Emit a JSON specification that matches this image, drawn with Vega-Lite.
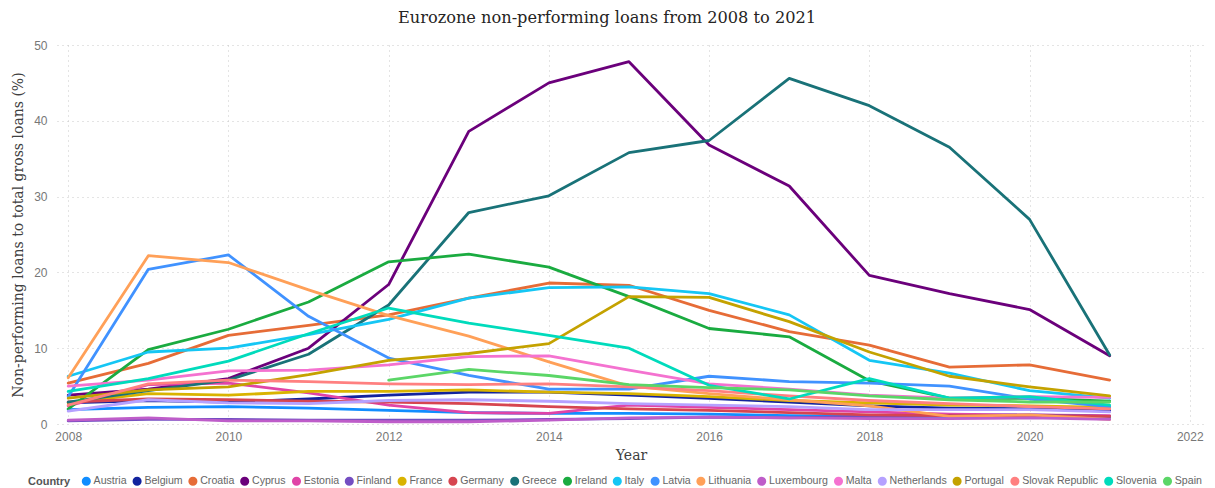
{
  "$schema": "https://vega.github.io/schema/vega-lite/v6.json",
  "width": 1148,
  "height": 379,
  "autosize": {"type": "none"},
  "padding": {"left": 57, "top": 45, "right": 10, "bottom": 64},
  "background": "white",
  "title": {
    "text": "Eurozone non-performing loans from 2008 to 2021",
    "font": "DejaVu Serif",
    "fontSize": 16.2,
    "fontWeight": "normal",
    "color": "#252423",
    "offset": 13,
    "dx": -24
  },
  "config": {
    "view": {"stroke": null},
    "axis": {
      "labelFont": "Liberation Sans",
      "labelFontSize": 12,
      "labelColor": "#777777",
      "titleFont": "DejaVu Serif",
      "titleFontSize": 14,
      "titleFontWeight": "normal",
      "titleColor": "#404040",
      "domain": false,
      "ticks": false,
      "grid": true,
      "gridColor": "#c8c8c8",
      "gridDash": [1, 4],
      "gridWidth": 1
    }
  },
  "datasets": {
    "npl": [
      {"Country": "Austria", "Year": 2008, "NPL": 1.9}, {"Country": "Austria", "Year": 2009, "NPL": 2.2}, {"Country": "Austria", "Year": 2010, "NPL": 2.3}, {"Country": "Austria", "Year": 2011, "NPL": 2.1}, {"Country": "Austria", "Year": 2012, "NPL": 1.8}, {"Country": "Austria", "Year": 2013, "NPL": 1.5}, {"Country": "Austria", "Year": 2014, "NPL": 1.4}, {"Country": "Austria", "Year": 2015, "NPL": 1.4}, {"Country": "Austria", "Year": 2016, "NPL": 1.3}, {"Country": "Austria", "Year": 2017, "NPL": 1.1}, {"Country": "Austria", "Year": 2018, "NPL": 1.0}, {"Country": "Austria", "Year": 2019, "NPL": 0.9}, {"Country": "Austria", "Year": 2020, "NPL": 0.9}, {"Country": "Austria", "Year": 2021, "NPL": 0.8},
      {"Country": "Belgium", "Year": 2008, "NPL": 2.8}, {"Country": "Belgium", "Year": 2009, "NPL": 3.1}, {"Country": "Belgium", "Year": 2010, "NPL": 2.9}, {"Country": "Belgium", "Year": 2011, "NPL": 3.3}, {"Country": "Belgium", "Year": 2012, "NPL": 3.8}, {"Country": "Belgium", "Year": 2013, "NPL": 4.2}, {"Country": "Belgium", "Year": 2014, "NPL": 4.2}, {"Country": "Belgium", "Year": 2015, "NPL": 3.8}, {"Country": "Belgium", "Year": 2016, "NPL": 3.4}, {"Country": "Belgium", "Year": 2017, "NPL": 2.9}, {"Country": "Belgium", "Year": 2018, "NPL": 2.4}, {"Country": "Belgium", "Year": 2019, "NPL": 2.1}, {"Country": "Belgium", "Year": 2020, "NPL": 2.0}, {"Country": "Belgium", "Year": 2021, "NPL": 1.8},
      {"Country": "Croatia", "Year": 2008, "NPL": 5.4}, {"Country": "Croatia", "Year": 2009, "NPL": 8.0}, {"Country": "Croatia", "Year": 2010, "NPL": 11.7}, {"Country": "Croatia", "Year": 2011, "NPL": 13.0}, {"Country": "Croatia", "Year": 2012, "NPL": 14.4}, {"Country": "Croatia", "Year": 2013, "NPL": 16.6}, {"Country": "Croatia", "Year": 2014, "NPL": 18.6}, {"Country": "Croatia", "Year": 2015, "NPL": 18.3}, {"Country": "Croatia", "Year": 2016, "NPL": 15.0}, {"Country": "Croatia", "Year": 2017, "NPL": 12.2}, {"Country": "Croatia", "Year": 2018, "NPL": 10.4}, {"Country": "Croatia", "Year": 2019, "NPL": 7.5}, {"Country": "Croatia", "Year": 2020, "NPL": 7.8}, {"Country": "Croatia", "Year": 2021, "NPL": 5.8},
      {"Country": "Cyprus", "Year": 2008, "NPL": 3.8}, {"Country": "Cyprus", "Year": 2009, "NPL": 4.6}, {"Country": "Cyprus", "Year": 2010, "NPL": 6.0}, {"Country": "Cyprus", "Year": 2011, "NPL": 10.0}, {"Country": "Cyprus", "Year": 2012, "NPL": 18.4}, {"Country": "Cyprus", "Year": 2013, "NPL": 38.6}, {"Country": "Cyprus", "Year": 2014, "NPL": 45.0}, {"Country": "Cyprus", "Year": 2015, "NPL": 47.8}, {"Country": "Cyprus", "Year": 2016, "NPL": 36.8}, {"Country": "Cyprus", "Year": 2017, "NPL": 31.4}, {"Country": "Cyprus", "Year": 2018, "NPL": 19.6}, {"Country": "Cyprus", "Year": 2019, "NPL": 17.2}, {"Country": "Cyprus", "Year": 2020, "NPL": 15.1}, {"Country": "Cyprus", "Year": 2021, "NPL": 9.0},
      {"Country": "Estonia", "Year": 2008, "NPL": 2.4}, {"Country": "Estonia", "Year": 2009, "NPL": 5.2}, {"Country": "Estonia", "Year": 2010, "NPL": 5.4}, {"Country": "Estonia", "Year": 2011, "NPL": 4.1}, {"Country": "Estonia", "Year": 2012, "NPL": 2.5}, {"Country": "Estonia", "Year": 2013, "NPL": 1.5}, {"Country": "Estonia", "Year": 2014, "NPL": 1.4}, {"Country": "Estonia", "Year": 2015, "NPL": 2.5}, {"Country": "Estonia", "Year": 2016, "NPL": 2.2}, {"Country": "Estonia", "Year": 2017, "NPL": 1.9}, {"Country": "Estonia", "Year": 2018, "NPL": 1.6}, {"Country": "Estonia", "Year": 2019, "NPL": 1.3}, {"Country": "Estonia", "Year": 2020, "NPL": 1.2}, {"Country": "Estonia", "Year": 2021, "NPL": 1.1},
      {"Country": "Finland", "Year": 2008, "NPL": 0.4}, {"Country": "Finland", "Year": 2009, "NPL": 0.6}, {"Country": "Finland", "Year": 2010, "NPL": 0.6}, {"Country": "Finland", "Year": 2011, "NPL": 0.5}, {"Country": "Finland", "Year": 2012, "NPL": 0.5}, {"Country": "Finland", "Year": 2013, "NPL": 0.5}, {"Country": "Finland", "Year": 2014, "NPL": 0.6}, {"Country": "Finland", "Year": 2015, "NPL": 0.7}, {"Country": "Finland", "Year": 2016, "NPL": 0.9}, {"Country": "Finland", "Year": 2017, "NPL": 0.8}, {"Country": "Finland", "Year": 2018, "NPL": 1.0}, {"Country": "Finland", "Year": 2019, "NPL": 1.1}, {"Country": "Finland", "Year": 2020, "NPL": 1.2}, {"Country": "Finland", "Year": 2021, "NPL": 1.0},
      {"Country": "France", "Year": 2008, "NPL": 2.8}, {"Country": "France", "Year": 2009, "NPL": 4.0}, {"Country": "France", "Year": 2010, "NPL": 3.8}, {"Country": "France", "Year": 2011, "NPL": 4.3}, {"Country": "France", "Year": 2012, "NPL": 4.3}, {"Country": "France", "Year": 2013, "NPL": 4.5}, {"Country": "France", "Year": 2014, "NPL": 4.2}, {"Country": "France", "Year": 2015, "NPL": 4.0}, {"Country": "France", "Year": 2016, "NPL": 3.6}, {"Country": "France", "Year": 2017, "NPL": 3.1}, {"Country": "France", "Year": 2018, "NPL": 2.8}, {"Country": "France", "Year": 2019, "NPL": 2.5}, {"Country": "France", "Year": 2020, "NPL": 2.4}, {"Country": "France", "Year": 2021, "NPL": 2.2},
      {"Country": "Germany", "Year": 2008, "NPL": 2.9}, {"Country": "Germany", "Year": 2009, "NPL": 3.3}, {"Country": "Germany", "Year": 2010, "NPL": 3.2}, {"Country": "Germany", "Year": 2011, "NPL": 3.0}, {"Country": "Germany", "Year": 2012, "NPL": 2.9}, {"Country": "Germany", "Year": 2013, "NPL": 2.7}, {"Country": "Germany", "Year": 2014, "NPL": 2.3}, {"Country": "Germany", "Year": 2015, "NPL": 2.0}, {"Country": "Germany", "Year": 2016, "NPL": 1.8}, {"Country": "Germany", "Year": 2017, "NPL": 1.5}, {"Country": "Germany", "Year": 2018, "NPL": 1.2}, {"Country": "Germany", "Year": 2019, "NPL": 1.1}, {"Country": "Germany", "Year": 2020, "NPL": 1.1}, {"Country": "Germany", "Year": 2021, "NPL": 1.0},
      {"Country": "Greece", "Year": 2008, "NPL": 2.9}, {"Country": "Greece", "Year": 2009, "NPL": 4.4}, {"Country": "Greece", "Year": 2010, "NPL": 5.8}, {"Country": "Greece", "Year": 2011, "NPL": 9.2}, {"Country": "Greece", "Year": 2012, "NPL": 15.7}, {"Country": "Greece", "Year": 2013, "NPL": 27.9}, {"Country": "Greece", "Year": 2014, "NPL": 30.1}, {"Country": "Greece", "Year": 2015, "NPL": 35.8}, {"Country": "Greece", "Year": 2016, "NPL": 37.4}, {"Country": "Greece", "Year": 2017, "NPL": 45.6}, {"Country": "Greece", "Year": 2018, "NPL": 42.0}, {"Country": "Greece", "Year": 2019, "NPL": 36.5}, {"Country": "Greece", "Year": 2020, "NPL": 27.0}, {"Country": "Greece", "Year": 2021, "NPL": 9.1},
      {"Country": "Ireland", "Year": 2008, "NPL": 2.0}, {"Country": "Ireland", "Year": 2009, "NPL": 9.8}, {"Country": "Ireland", "Year": 2010, "NPL": 12.5}, {"Country": "Ireland", "Year": 2011, "NPL": 16.1}, {"Country": "Ireland", "Year": 2012, "NPL": 21.4}, {"Country": "Ireland", "Year": 2013, "NPL": 22.4}, {"Country": "Ireland", "Year": 2014, "NPL": 20.7}, {"Country": "Ireland", "Year": 2015, "NPL": 16.8}, {"Country": "Ireland", "Year": 2016, "NPL": 12.6}, {"Country": "Ireland", "Year": 2017, "NPL": 11.5}, {"Country": "Ireland", "Year": 2018, "NPL": 5.7}, {"Country": "Ireland", "Year": 2019, "NPL": 3.4}, {"Country": "Ireland", "Year": 2020, "NPL": 3.4}, {"Country": "Ireland", "Year": 2021, "NPL": 3.0},
      {"Country": "Italy", "Year": 2008, "NPL": 6.3}, {"Country": "Italy", "Year": 2009, "NPL": 9.5}, {"Country": "Italy", "Year": 2010, "NPL": 10.0}, {"Country": "Italy", "Year": 2011, "NPL": 11.8}, {"Country": "Italy", "Year": 2012, "NPL": 13.8}, {"Country": "Italy", "Year": 2013, "NPL": 16.6}, {"Country": "Italy", "Year": 2014, "NPL": 18.0}, {"Country": "Italy", "Year": 2015, "NPL": 18.1}, {"Country": "Italy", "Year": 2016, "NPL": 17.2}, {"Country": "Italy", "Year": 2017, "NPL": 14.4}, {"Country": "Italy", "Year": 2018, "NPL": 8.4}, {"Country": "Italy", "Year": 2019, "NPL": 6.7}, {"Country": "Italy", "Year": 2020, "NPL": 4.4}, {"Country": "Italy", "Year": 2021, "NPL": 3.4},
      {"Country": "Latvia", "Year": 2008, "NPL": 3.6}, {"Country": "Latvia", "Year": 2009, "NPL": 20.4}, {"Country": "Latvia", "Year": 2010, "NPL": 22.3}, {"Country": "Latvia", "Year": 2011, "NPL": 14.2}, {"Country": "Latvia", "Year": 2012, "NPL": 8.7}, {"Country": "Latvia", "Year": 2013, "NPL": 6.4}, {"Country": "Latvia", "Year": 2014, "NPL": 4.6}, {"Country": "Latvia", "Year": 2015, "NPL": 4.6}, {"Country": "Latvia", "Year": 2016, "NPL": 6.3}, {"Country": "Latvia", "Year": 2017, "NPL": 5.6}, {"Country": "Latvia", "Year": 2018, "NPL": 5.4}, {"Country": "Latvia", "Year": 2019, "NPL": 5.0}, {"Country": "Latvia", "Year": 2020, "NPL": 3.3}, {"Country": "Latvia", "Year": 2021, "NPL": 2.3},
      {"Country": "Lithuania", "Year": 2008, "NPL": 6.1}, {"Country": "Lithuania", "Year": 2009, "NPL": 22.2}, {"Country": "Lithuania", "Year": 2010, "NPL": 21.3}, {"Country": "Lithuania", "Year": 2011, "NPL": 17.7}, {"Country": "Lithuania", "Year": 2012, "NPL": 14.3}, {"Country": "Lithuania", "Year": 2013, "NPL": 11.6}, {"Country": "Lithuania", "Year": 2014, "NPL": 8.2}, {"Country": "Lithuania", "Year": 2015, "NPL": 5.0}, {"Country": "Lithuania", "Year": 2016, "NPL": 4.0}, {"Country": "Lithuania", "Year": 2017, "NPL": 3.2}, {"Country": "Lithuania", "Year": 2018, "NPL": 2.4}, {"Country": "Lithuania", "Year": 2019, "NPL": 1.0}, {"Country": "Lithuania", "Year": 2020, "NPL": 1.2}, {"Country": "Lithuania", "Year": 2021, "NPL": 0.6},
      {"Country": "Luxembourg", "Year": 2008, "NPL": 0.5}, {"Country": "Luxembourg", "Year": 2009, "NPL": 0.8}, {"Country": "Luxembourg", "Year": 2010, "NPL": 0.4}, {"Country": "Luxembourg", "Year": 2011, "NPL": 0.4}, {"Country": "Luxembourg", "Year": 2012, "NPL": 0.3}, {"Country": "Luxembourg", "Year": 2013, "NPL": 0.3}, {"Country": "Luxembourg", "Year": 2014, "NPL": 0.5}, {"Country": "Luxembourg", "Year": 2015, "NPL": 0.8}, {"Country": "Luxembourg", "Year": 2016, "NPL": 0.9}, {"Country": "Luxembourg", "Year": 2017, "NPL": 0.8}, {"Country": "Luxembourg", "Year": 2018, "NPL": 0.7}, {"Country": "Luxembourg", "Year": 2019, "NPL": 0.7}, {"Country": "Luxembourg", "Year": 2020, "NPL": 0.8}, {"Country": "Luxembourg", "Year": 2021, "NPL": 0.6},
      {"Country": "Malta", "Year": 2008, "NPL": 5.0}, {"Country": "Malta", "Year": 2009, "NPL": 5.8}, {"Country": "Malta", "Year": 2010, "NPL": 7.0}, {"Country": "Malta", "Year": 2011, "NPL": 7.1}, {"Country": "Malta", "Year": 2012, "NPL": 7.8}, {"Country": "Malta", "Year": 2013, "NPL": 8.9}, {"Country": "Malta", "Year": 2014, "NPL": 9.0}, {"Country": "Malta", "Year": 2015, "NPL": 7.1}, {"Country": "Malta", "Year": 2016, "NPL": 5.3}, {"Country": "Malta", "Year": 2017, "NPL": 4.6}, {"Country": "Malta", "Year": 2018, "NPL": 3.8}, {"Country": "Malta", "Year": 2019, "NPL": 3.4}, {"Country": "Malta", "Year": 2020, "NPL": 3.6}, {"Country": "Malta", "Year": 2021, "NPL": 3.5},
      {"Country": "Netherlands", "Year": 2008, "NPL": 1.7}, {"Country": "Netherlands", "Year": 2009, "NPL": 3.2}, {"Country": "Netherlands", "Year": 2010, "NPL": 2.8}, {"Country": "Netherlands", "Year": 2011, "NPL": 2.7}, {"Country": "Netherlands", "Year": 2012, "NPL": 3.1}, {"Country": "Netherlands", "Year": 2013, "NPL": 3.2}, {"Country": "Netherlands", "Year": 2014, "NPL": 3.0}, {"Country": "Netherlands", "Year": 2015, "NPL": 2.7}, {"Country": "Netherlands", "Year": 2016, "NPL": 2.5}, {"Country": "Netherlands", "Year": 2017, "NPL": 2.3}, {"Country": "Netherlands", "Year": 2018, "NPL": 1.9}, {"Country": "Netherlands", "Year": 2019, "NPL": 1.9}, {"Country": "Netherlands", "Year": 2020, "NPL": 1.9}, {"Country": "Netherlands", "Year": 2021, "NPL": 1.6},
      {"Country": "Portugal", "Year": 2008, "NPL": 3.4}, {"Country": "Portugal", "Year": 2009, "NPL": 4.5}, {"Country": "Portugal", "Year": 2010, "NPL": 4.9}, {"Country": "Portugal", "Year": 2011, "NPL": 6.5}, {"Country": "Portugal", "Year": 2012, "NPL": 8.4}, {"Country": "Portugal", "Year": 2013, "NPL": 9.3}, {"Country": "Portugal", "Year": 2014, "NPL": 10.6}, {"Country": "Portugal", "Year": 2015, "NPL": 16.8}, {"Country": "Portugal", "Year": 2016, "NPL": 16.7}, {"Country": "Portugal", "Year": 2017, "NPL": 13.5}, {"Country": "Portugal", "Year": 2018, "NPL": 9.5}, {"Country": "Portugal", "Year": 2019, "NPL": 6.3}, {"Country": "Portugal", "Year": 2020, "NPL": 4.9}, {"Country": "Portugal", "Year": 2021, "NPL": 3.7},
      {"Country": "Slovak Republic", "Year": 2008, "NPL": 2.5}, {"Country": "Slovak Republic", "Year": 2009, "NPL": 5.3}, {"Country": "Slovak Republic", "Year": 2010, "NPL": 5.8}, {"Country": "Slovak Republic", "Year": 2011, "NPL": 5.6}, {"Country": "Slovak Republic", "Year": 2012, "NPL": 5.3}, {"Country": "Slovak Republic", "Year": 2013, "NPL": 5.2}, {"Country": "Slovak Republic", "Year": 2014, "NPL": 5.3}, {"Country": "Slovak Republic", "Year": 2015, "NPL": 4.9}, {"Country": "Slovak Republic", "Year": 2016, "NPL": 4.4}, {"Country": "Slovak Republic", "Year": 2017, "NPL": 3.7}, {"Country": "Slovak Republic", "Year": 2018, "NPL": 3.1}, {"Country": "Slovak Republic", "Year": 2019, "NPL": 2.7}, {"Country": "Slovak Republic", "Year": 2020, "NPL": 2.3}, {"Country": "Slovak Republic", "Year": 2021, "NPL": 2.0},
      {"Country": "Slovenia", "Year": 2008, "NPL": 4.3}, {"Country": "Slovenia", "Year": 2009, "NPL": 6.0}, {"Country": "Slovenia", "Year": 2010, "NPL": 8.3}, {"Country": "Slovenia", "Year": 2011, "NPL": 11.9}, {"Country": "Slovenia", "Year": 2012, "NPL": 15.3}, {"Country": "Slovenia", "Year": 2013, "NPL": 13.3}, {"Country": "Slovenia", "Year": 2014, "NPL": 11.7}, {"Country": "Slovenia", "Year": 2015, "NPL": 10.0}, {"Country": "Slovenia", "Year": 2016, "NPL": 5.1}, {"Country": "Slovenia", "Year": 2017, "NPL": 3.3}, {"Country": "Slovenia", "Year": 2018, "NPL": 6.0}, {"Country": "Slovenia", "Year": 2019, "NPL": 3.4}, {"Country": "Slovenia", "Year": 2020, "NPL": 3.6}, {"Country": "Slovenia", "Year": 2021, "NPL": 2.5},
      {"Country": "Spain", "Year": 2012, "NPL": 5.8}, {"Country": "Spain", "Year": 2013, "NPL": 7.2}, {"Country": "Spain", "Year": 2014, "NPL": 6.4}, {"Country": "Spain", "Year": 2015, "NPL": 5.2}, {"Country": "Spain", "Year": 2016, "NPL": 4.8}, {"Country": "Spain", "Year": 2017, "NPL": 4.5}, {"Country": "Spain", "Year": 2018, "NPL": 3.7}, {"Country": "Spain", "Year": 2019, "NPL": 3.2}, {"Country": "Spain", "Year": 2020, "NPL": 2.9}, {"Country": "Spain", "Year": 2021, "NPL": 2.9}
    ]
  },
  "data": {"name": "npl"},
  "mark": {"type": "line", "strokeWidth": 2.8, "strokeCap": "round", "strokeJoin": "round"},
  "encoding": {
    "x": {
      "field": "Year",
      "type": "quantitative",
      "scale": {"domain": [2007.86, 2022.19], "nice": false, "zero": false},
      "axis": {"values": [2008, 2010, 2012, 2014, 2016, 2018, 2020, 2022], "format": "d", "labelPadding": 7, "titlePadding": 6, "title": "Year"}
    },
    "y": {
      "field": "NPL",
      "type": "quantitative",
      "scale": {"domain": [0, 50], "nice": false},
      "axis": {"values": [0, 10, 20, 30, 40, 50], "labelPadding": 10, "titlePadding": 8, "title": "Non-performing loans to total gross loans (%)"}
    },
    "color": {
      "field": "Country",
      "type": "nominal",
      "scale": {
        "domain": ["Austria", "Belgium", "Croatia", "Cyprus", "Estonia", "Finland", "France", "Germany", "Greece", "Ireland", "Italy", "Latvia", "Lithuania", "Luxembourg", "Malta", "Netherlands", "Portugal", "Slovak Republic", "Slovenia", "Spain"],
        "range": ["#118DFF", "#12239E", "#E66C37", "#6B007B", "#E044A7", "#744EC2", "#D9B300", "#D64550", "#197278", "#1AAB40", "#15C6F4", "#4092FF", "#FFA058", "#BE5DC9", "#F472D0", "#B5A1FF", "#C4A200", "#FF8080", "#00DBBC", "#5BD667"]
      },
      "legend": {
        "orient": "none",
        "direction": "horizontal",
        "columns": 20,
        "gridAlign": "none",
        "legendX": -29,
        "legendY": 431,
        "title": "Country",
        "titleOrient": "left",
        "titleAnchor": "start",
        "titleBaseline": "top",
        "titleFont": "Liberation Sans",
        "titleFontSize": 11,
        "titleFontWeight": "bold",
        "titleColor": "#555555",
        "titlePadding": 10,
        "labelFont": "Liberation Sans",
        "labelFontSize": 10.6,
        "labelColor": "#666666",
        "labelOffset": 2,
        "columnPadding": -2.2,
        "symbolType": "circle",
        "symbolSize": 20,
        "symbolStrokeWidth": 4.6,
        "symbolOpacity": 1
      }
    }
  }
}
